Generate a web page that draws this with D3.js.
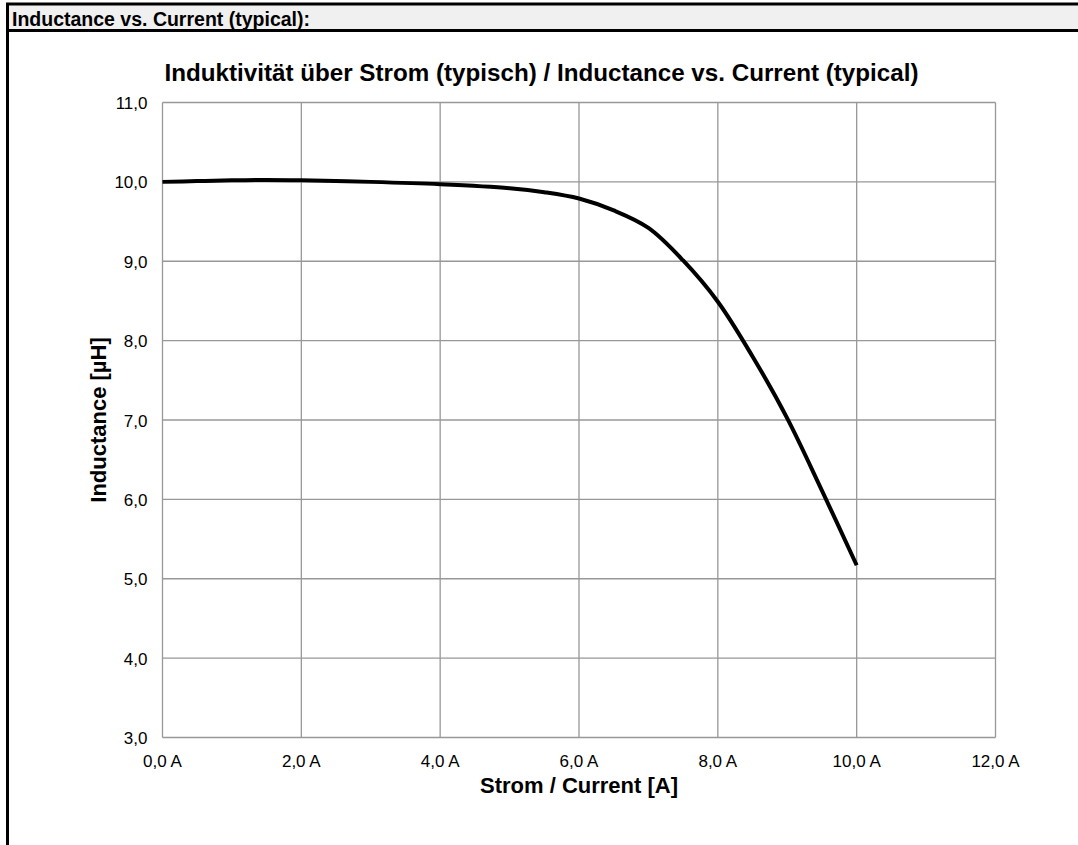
<!DOCTYPE html>
<html>
<head>
<meta charset="utf-8">
<script src="https://cdn.jsdelivr.net/npm/d3@7"></script>
<style>
  body { margin: 0; background: #fff; }
  text { font-family: "Liberation Sans", Arial, sans-serif; }
</style>
</head>
<body>
<script>
// current [A] and inductance [µH]
var current    = [0, 0.5, 1, 1.5, 2, 3, 4, 5, 5.5, 6, 6.5, 7, 7.5, 8, 8.5, 9, 9.5, 10];
var inductance = [10.0, 10.01, 10.02, 10.025, 10.02, 10.0, 9.97, 9.92, 9.87, 9.79, 9.64, 9.42, 9.01, 8.49, 7.8, 7.02, 6.11, 5.17];

var xTicks = [0, 2, 4, 6, 8, 10, 12];
var yTicks = [3, 4, 5, 6, 7, 8, 9, 10, 11];

var width = 1078, height = 845;
var plot = {left: 162.5, right: 995.5, top: 102.5, bottom: 737.5};

var svg = d3.select("body").append("svg")
    .attr("width", width)
    .attr("height", height);

// header band
svg.append("rect")
    .attr("x", 7).attr("y", 4)
    .attr("width", width - 7).attr("height", 26)
    .attr("fill", "#f0f0f0");
svg.append("line")
    .attr("x1", 6).attr("x2", width).attr("y1", 4).attr("y2", 4)
    .attr("stroke", "#000").attr("stroke-width", 3);
svg.append("line")
    .attr("x1", 6).attr("x2", width).attr("y1", 30.5).attr("y2", 30.5)
    .attr("stroke", "#000").attr("stroke-width", 3);
svg.append("line")
    .attr("x1", 7.5).attr("x2", 7.5).attr("y1", 3).attr("y2", height)
    .attr("stroke", "#000").attr("stroke-width", 3);
svg.append("text")
    .attr("x", 12).attr("y", 26)
    .attr("font-size", "19.5px").attr("font-weight", "bold")
    .text("Inductance vs. Current (typical):");

var x = d3.scaleLinear().domain([0, 12]).range([plot.left, plot.right]);
var y = d3.scaleLinear().domain([3, 11]).range([plot.bottom, plot.top]);

// gridlines
var grid = svg.append("g");
grid.selectAll(".vx").data(xTicks).enter().append("line")
    .attr("x1", d => x(d)).attr("x2", d => x(d))
    .attr("y1", plot.top).attr("y2", plot.bottom)
    .attr("stroke", "#989898").attr("stroke-width", 1.3);
grid.selectAll(".hy").data(yTicks).enter().append("line")
    .attr("x1", plot.left).attr("x2", plot.right)
    .attr("y1", d => y(d)).attr("y2", d => y(d))
    .attr("stroke", "#989898").attr("stroke-width", 1.3);

// tick labels
var fmt = d => d.toFixed(1).replace(".", ",");
svg.append("g").selectAll("text").data(yTicks).enter().append("text")
    .attr("x", plot.left - 15).attr("y", d => y(d) + 6.5)
    .attr("text-anchor", "end").attr("font-size", "17px").attr("fill", "#000")
    .text(fmt);
svg.append("g").selectAll("text").data(xTicks).enter().append("text")
    .attr("x", d => x(d)).attr("y", plot.bottom + 29)
    .attr("text-anchor", "middle").attr("font-size", "17px").attr("fill", "#000")
    .text(d => fmt(d) + " A");

// titles
svg.append("text")
    .attr("x", 541.5).attr("y", 81)
    .attr("text-anchor", "middle").attr("font-size", "24.2px").attr("font-weight", "bold")
    .text("Induktivität über Strom (typisch) / Inductance vs. Current (typical)");
svg.append("text")
    .attr("x", (plot.left + plot.right) / 2).attr("y", 793)
    .attr("text-anchor", "middle").attr("font-size", "22px").attr("font-weight", "bold")
    .text("Strom / Current [A]");
svg.append("text")
    .attr("transform", "translate(106," + ((plot.top + plot.bottom) / 2) + ") rotate(-90)")
    .attr("text-anchor", "middle").attr("font-size", "22px").attr("font-weight", "bold")
    .text("Inductance [µH]");

// the curve
var line = d3.line()
    .x((d, i) => x(current[i]))
    .y(d => y(d))
    .curve(d3.curveCatmullRom.alpha(0.5));
svg.append("path")
    .datum(inductance)
    .attr("d", line)
    .attr("fill", "none")
    .attr("stroke", "#000")
    .attr("stroke-width", 4);
</script>
</body>
</html>
